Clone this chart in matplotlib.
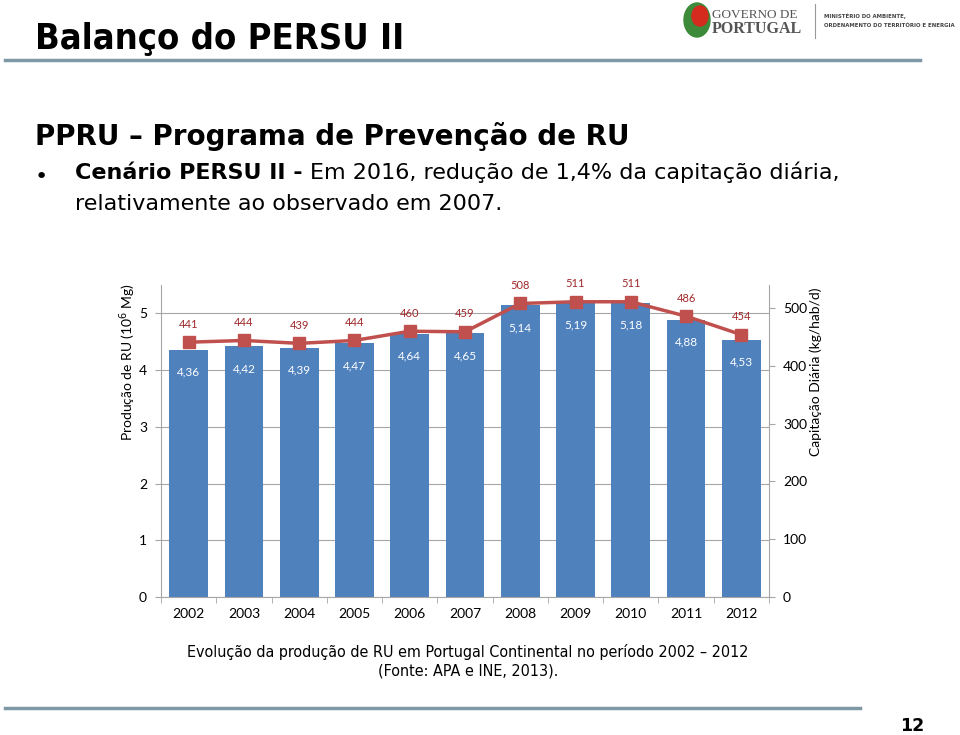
import numpy as np
import matplotlib.pyplot as plt
from matplotlib.patches import Ellipse
from matplotlib.lines import Line2D

# data
anos = ['2002', '2003', '2004', '2005', '2006', '2007', '2008', '2009', '2010', '2011', '2012']
producao = [4.36, 4.42, 4.39, 4.47, 4.64, 4.65, 5.14, 5.19, 5.18, 4.88, 4.53]
capitacao = [441, 444, 439, 444, 460, 459, 508, 511, 511, 486, 454]

azul = '#4F81BD'
vermelho = '#C0504D'
chart_font = ['Lato', 'DejaVu Sans']
narrow = ['DejaVu Sans Condensed', 'DejaVu Sans']

fig = plt.figure(figsize=(9.6, 7.35), dpi=100)
W, H = 960.0, 735.0

def fx(px):
    return px / W

def fy(py):
    return 1 - py / H

# slide header
fig.text(fx(35), fy(49), 'Balanço do PERSU II', fontsize=26, fontweight='bold',
         family=narrow, fontstretch='condensed', va='baseline', color='black')
fig.add_artist(Line2D([fx(5), fx(920)], [fy(60), fy(60)], color='#7F98A6', lw=2.5))
fig.add_artist(Line2D([fx(5), fx(860)], [fy(708), fy(708)], color='#7F98A6', lw=2.5))
fig.text(fx(912), fy(731), '12', fontsize=12.5, fontweight='bold', ha='center', va='baseline')

# logo
fig.add_artist(Ellipse((fx(697), fy(20)), fx(26), 34 / H, color='#3C8A3A'))
fig.add_artist(Ellipse((fx(700), fy(16)), fx(16), 20 / H, color='#D52B1E'))
fig.text(fx(712), fy(18), 'GOVERNO DE', fontsize=9.5, family='Liberation Serif', color='#555555', va='baseline')
fig.text(fx(712), fy(33), 'PORTUGAL', fontsize=11.5, fontweight='bold', family='Liberation Serif',
         color='#555555', va='baseline')
fig.add_artist(Line2D([fx(815), fx(815)], [fy(4), fy(38)], color='#999999', lw=0.8))
fig.text(fx(824), fy(18), 'MINISTÉRIO DO AMBIENTE,', fontsize=4.3, fontweight='bold',
         family=narrow, fontstretch='condensed', color='#444444', va='baseline')
fig.text(fx(824), fy(27), 'ORDENAMENTO DO TERRITÓRIO E ENERGIA', fontsize=4.3, fontweight='bold',
         family=narrow, fontstretch='condensed', color='#444444', va='baseline')

# slide body text
fig.text(fx(35), fy(145), 'PPRU – Programa de Prevenção de RU', fontsize=20, fontweight='bold',
         va='baseline', color='black')
fig.text(fx(35), fy(183), '•', fontsize=16, va='baseline')
t1 = fig.text(fx(75), fy(183), 'Cenário PERSU II - ', fontsize=16, fontweight='bold', va='bottom')
fig.canvas.draw()
bb = t1.get_window_extent()
fig.text(bb.x1 / W, bb.y0 / H, 'Em 2016, redução de 1,4% da capitação diária,', fontsize=16, va='bottom')
fig.text(fx(75), fy(210), 'relativamente ao observado em 2007.', fontsize=16, va='baseline')

# caption
fig.text(fx(468), fy(657), 'Evolução da produção de RU em Portugal Continental no período 2002 – 2012',
         fontsize=11.5, family=narrow, fontstretch='condensed', ha='center', va='baseline')
fig.text(fx(468), fy(676), '(Fonte: APA e INE, 2013).', fontsize=11.5, family=narrow,
         fontstretch='condensed', ha='center', va='baseline')

# chart
ax = fig.add_axes([fx(161), fy(597), fx(769) - fx(161), fy(285) - fy(597)])
x = np.arange(len(anos))
bars = ax.bar(x, producao, width=0.7, color=azul, zorder=2)
ax.set_xlim(-0.5, len(anos) - 0.5)
ax.set_ylim(0, 5.5)
ax.set_yticks([0, 1, 2, 3, 4, 5])
ax.set_yticklabels(['0', '1', '2', '3', '4', '5'], family=chart_font, fontsize=10)
ax.yaxis.grid(True, color='#A6A6A6', lw=0.8, zorder=0)
ax.set_axisbelow(True)
ax.set_xticks(x)
ax.set_xticklabels(anos, family=chart_font, fontsize=10)
ax.set_xticks(np.arange(-0.5, len(anos)), minor=True)
ax.tick_params(axis='x', which='major', length=0, pad=8)
ax.tick_params(axis='x', which='minor', length=4, color='#A6A6A6')
ax.tick_params(axis='y', length=4, color='#A6A6A6', pad=6)
for s in ['top', 'right']:
    ax.spines[s].set_visible(False)
for s in ['left', 'bottom']:
    ax.spines[s].set_color('#A6A6A6')

for xi, v in zip(x, producao):
    ax.annotate(f'{v:.2f}'.replace('.', ','), (xi, v), xytext=(0, -16), textcoords='offset points',
                ha='center', va='center', color='white', fontsize=8.5, family=chart_font)

ax2 = ax.twinx()
ax2.set_ylim(0, 540)
ax2.plot(x, capitacao, color=vermelho, lw=2.5, marker='s', markersize=8, zorder=3)
ax2.set_yticks([0, 100, 200, 300, 400, 500])
ax2.set_yticklabels(['0', '100', '200', '300', '400', '500'], family=chart_font, fontsize=10)
ax2.tick_params(axis='y', length=4, color='#A6A6A6', pad=6)
for s in ['top', 'left', 'bottom']:
    ax2.spines[s].set_visible(False)
ax2.spines['right'].set_color('#A6A6A6')
for xi, v in zip(x, capitacao):
    ax2.annotate(str(v), (xi, v), xytext=(0, 13), textcoords='offset points',
                 ha='center', va='center', color='#A0282A', fontsize=8, family=chart_font)

fig.text(fx(128), fy(362), 'Produção de RU (10$^6$ Mg)', rotation=90, ha='center', va='center',
         fontsize=10, family=chart_font)
fig.text(fx(816), fy(372), 'Capitação Diária (kg/hab/d)', rotation=90, ha='center', va='center',
         fontsize=10, family=chart_font)

fig.savefig('out.png', dpi=100)
